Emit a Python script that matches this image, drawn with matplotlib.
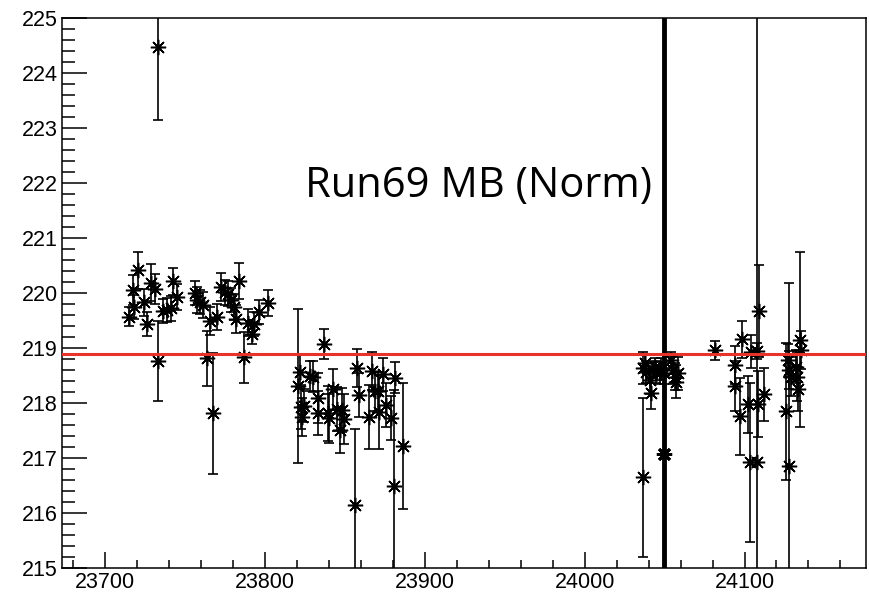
import matplotlib
matplotlib.use("Agg")
import matplotlib.pyplot as plt
from matplotlib.ticker import MultipleLocator

# ---- data (run number, normalized value, error) ----
run = [23715.2, 23718.1, 23717.7, 23720.8, 23724.6, 23726.4, 23728.9, 23731.2, 23733.3, 23733.1,
       23736.1, 23738.8, 23741.3, 23742.3, 23745.2,
       23756.3, 23757.7, 23759.4, 23761.4, 23763.6, 23765.6, 23767.7, 23770.2, 23772.5, 23775.0,
       23777.0, 23778.8, 23780.8, 23781.9, 23783.8, 23786.9, 23789.6, 23792.1, 23793.3, 23796.4,
       23801.7,
       23820.8, 23821.9, 23822.5, 23823.0, 23824.6, 23828.1, 23830.0, 23833.3, 23833.3, 23837.1,
       23839.6, 23840.2, 23842.7, 23844.8, 23846.9, 23847.9, 23849.6, 23856.3, 23857.3, 23858.8,
       23865.0, 23867.1, 23868.8, 23870.8, 23871.4, 23873.9, 23876.0, 23878.6, 23880.8, 23881.3,
       23886.5,
       24036.5, 24036.5, 24037.5, 24038.6, 24040.6, 24041.7, 24042.7, 24043.8, 24044.8, 24046.9,
       24048.0, 24049.6, 24054.2, 24055.2, 24056.3, 24057.3, 24058.3,
       24081.3, 24093.8, 24093.8, 24096.9, 24098.3, 24102.1, 24103.5, 24104.2, 24107.9, 24108.3,
       24108.9, 24108.0, 24111.9,
       24126.0, 24127.1, 24127.7, 24128.1, 24129.2, 24131.9, 24132.7, 24133.3, 24134.4, 24135.4]
value = [219.57, 219.75, 220.05, 220.41, 219.83, 219.43, 220.19, 220.07, 218.77, 224.47,
         219.68, 219.69, 219.72, 220.21, 219.93,
         220.00, 219.87, 219.84, 219.78, 218.81, 219.49, 217.81, 219.56, 220.11, 220.01,
         219.99, 219.87, 219.75, 219.53, 220.22, 218.83, 219.46, 219.25, 219.43, 219.65,
         219.82,
         218.31, 218.57, 217.93, 217.75, 217.95, 218.49, 218.48, 218.09, 217.82, 219.07,
         217.81, 217.72, 218.25, 217.90, 217.51, 217.87, 217.71, 216.15, 218.64, 218.15,
         217.74, 218.58, 218.21, 218.21, 217.84, 218.52, 217.96, 217.72, 216.49, 218.46,
         217.22,
         216.65, 218.64, 218.72, 218.57, 218.42, 218.18, 218.60, 218.66, 218.57, 218.55,
         218.62, 218.55, 218.78, 218.60, 218.48, 218.39, 218.54,
         218.96, 218.69, 218.31, 217.76, 219.16, 217.98, 216.92, 218.93, 216.93, 217.98,
         219.67, 218.95, 218.16,
         217.85, 218.78, 218.60, 216.85, 218.48, 218.66, 218.48, 218.25, 219.15, 218.96]
error = [0.17, 0.22, 0.27, 0.33, 0.25, 0.22, 0.33, 0.27, 0.73, 1.33,
         0.22, 0.22, 0.22, 0.25, 0.24,
         0.22, 0.24, 0.22, 0.24, 0.50, 0.25, 1.10, 0.24, 0.25, 0.22,
         0.22, 0.22, 0.24, 0.25, 0.33, 0.46, 0.24, 0.18, 0.22, 0.22,
         0.24,
         1.40, 0.30, 0.40, 0.35, 0.30, 0.28, 0.28, 0.45, 0.40, 0.27,
         0.50, 0.45, 0.37, 0.40, 0.42, 0.40, 0.45, 1.38, 0.35, 0.40,
         0.58, 0.35, 0.35, 0.35, 0.67, 0.30, 0.40, 0.40, 1.75, 0.28,
         1.15,
         1.45, 0.29, 0.15, 0.20, 0.25, 0.29, 0.15, 0.15, 0.20, 0.20,
         0.20, 0.20, 0.15, 0.25, 0.25, 0.30, 0.30,
         0.17, 0.35, 0.45, 0.70, 0.34, 0.52, 1.45, 0.30, 12.0, 0.60,
         0.84, 0.15, 0.48,
         1.25, 0.30, 0.35, 3.33, 0.35, 0.30, 0.44, 0.40, 1.59, 0.35]

# runs whose error bar is drawn heavier
wide_run = [24049.6]
wide_value = [217.08]
wide_error = [12.0]

ref_level = 218.9
label_text = "Run69 MB (Norm)"

fig = plt.figure(figsize=(8.7, 5.93), dpi=100)
ax = fig.add_axes([62/870, 25/593, 804/870, 550/593])

star = (8, 2, 0)
ax.errorbar(run, value, yerr=error, fmt='none', ecolor='black', elinewidth=1.2,
            capsize=3.6, capthick=1.2, zorder=3)
ax.plot(run, value, linestyle='none', marker=star, markersize=11, markeredgewidth=1.1,
        color='black', zorder=4)
ax.plot(run, value, linestyle='none', marker='o', markersize=3.5, color='black', zorder=4)

ax.errorbar(wide_run, wide_value, yerr=wide_error, fmt='none', ecolor='black', elinewidth=3.5,
            capsize=4, capthick=3, zorder=3)
ax.plot(wide_run, wide_value, linestyle='none', marker=star, markersize=11, markeredgewidth=2.0,
        color='black', zorder=4)

ax.axhline(ref_level, color='#e8322a', linewidth=2.2, zorder=5)

ax.set_xlim(23673, 24176)
ax.set_ylim(215, 225)

ax.xaxis.set_major_locator(MultipleLocator(100))
ax.xaxis.set_minor_locator(MultipleLocator(20))
ax.yaxis.set_major_locator(MultipleLocator(1))
ax.yaxis.set_minor_locator(MultipleLocator(0.2))

ax.tick_params(axis='both', which='both', direction='in', top=False, right=False,
               width=1.1, colors='black')
ax.tick_params(axis='y', which='major', length=18)
ax.tick_params(axis='y', which='minor', length=9.4)
ax.tick_params(axis='x', which='major', length=11.5)
ax.tick_params(axis='x', which='minor', length=5.8)
for lab in ax.get_xticklabels() + ax.get_yticklabels():
    lab.set_fontfamily('Liberation Sans')
    lab.set_fontsize(15.5)
ax.tick_params(axis='x', pad=3)
ax.tick_params(axis='y', pad=3)

for sp in ax.spines.values():
    sp.set_linewidth(1.1)

ax.text(23825, 221.95, label_text, fontsize=30, family='Open Sans', color='black',
        ha='left', va='center')

fig.savefig('out.png', dpi=100)
